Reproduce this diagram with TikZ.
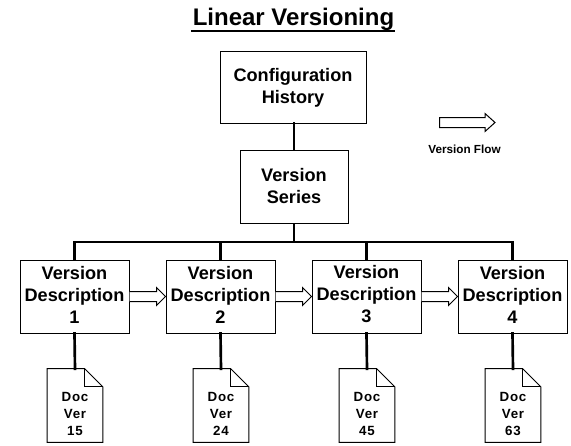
\documentclass[tikz,border=0pt]{standalone}
\usepackage{fontspec}
\setmainfont{Liberation Sans}
\usetikzlibrary{calc}
\tikzset{
  x=0.75pt,y=-0.75pt,
  box/.style={draw=black,line width=0.75pt,fill=white,inner sep=0pt,align=center,
    font=\fontsize{13.6pt}{16.5pt}\selectfont\bfseries},
  vdbox/.style={box,minimum width=81.75pt,minimum height=54.75pt},
  docbox/.style={inner sep=0pt,align=center,minimum width=41.25pt,minimum height=54.75pt,
    font=\fontsize{10pt}{12.8pt}\selectfont\bfseries\addfontfeatures{LetterSpace=6}},
  link/.style={line width=2pt,line cap=rect,xshift=0.4pt},
  blockarrow/.style={draw=black,line width=0.75pt,fill=white},
  docline/.style={draw=black,line width=0.75pt,fill=white,line join=miter},
}
\newcommand{\docshape}[1]{%
  \draw[docline] (#1.north west) -- ($(#1.north east)+(-18,0)$) -- ($(#1.north east)+(0,18)$)
    -- (#1.south east) -- (#1.south west) -- cycle;
  \draw[docline,fill=none] ($(#1.north east)+(-18,0)$) -- ($(#1.north east)+(-18,18)$) -- ($(#1.north east)+(0,18)$);
}
\newcommand{\flowarrow}[2]{%
  \draw[blockarrow] ($(#1.east)+(0,-5)$) -- ($(#2.west)+(-9,-5)$) -- ($(#2.west)+(-9,-9)$)
    -- (#2.west) -- ($(#2.west)+(-9,9)$) -- ($(#2.west)+(-9,5)$) -- ($(#1.east)+(0,5)$);
}
\begin{document}
\begin{tikzpicture}
\useasboundingbox (0,0) rectangle (571,446);
\fill[white] (0,0) rectangle (571,446);

\node[inner sep=0pt,font=\fontsize{18pt}{20pt}\selectfont\bfseries] (title) at (293.5,19) {Linear Versioning};
\coordinate (ulL) at (191,31);
\coordinate (ulR) at (395,31);
\draw[line width=1.5pt] (ulL) -- (ulR);

\node[box,minimum width=109.5pt,minimum height=54pt] (ch) at (293,87) {Configuration\\History\vspace{-1.5pt}};
\node[box,minimum width=81pt,minimum height=54.75pt] (vs) at (294,187) {Version\\Series\vspace{1.5pt}};

\node[vdbox] (v1) at (74.5,296.5) {Version\\Description\\1\vspace{3pt}};
\node[vdbox] (v2) at (220.5,296.5) {Version\\Description\\2\vspace{3pt}};
\node[vdbox] (v3) at (366.5,296.5) {Version\\Description\\3\vspace{3pt}};
\node[vdbox] (v4) at (512.5,296.5) {Version\\Description\\4\vspace{3pt}};

\node[docbox] (d1) at (75,405.5) {};
\node[docbox] (d2) at (221,405.5) {};
\node[docbox] (d3) at (367,405.5) {};
\node[docbox] (d4) at (513,405.5) {};
\docshape{d1}\docshape{d2}\docshape{d3}\docshape{d4}
\node[docbox,anchor=center] (t1) at (75,414) {Doc\\Ver\\15};
\node[docbox,anchor=center] (t2) at (221,414) {Doc\\Ver\\24};
\node[docbox,anchor=center] (t3) at (367,414) {Doc\\Ver\\45};
\node[docbox,anchor=center] (t4) at (513,414) {Doc\\Ver\\63};

\coordinate (bus) at (294,242);
\draw[link] (vs.north) -- (vs.north |- ch.south);
\draw[link] (vs.south) -- (bus);
\draw[link] (v1.north) |- (bus);
\draw[link] (v4.north) |- (bus);
\draw[link] (v2.north) -- (v2.north |- bus);
\draw[link] (v3.north) -- (v3.north |- bus);
\draw[link] (v1.south) -- (d1.north);
\draw[link] (v2.south) -- (d2.north);
\draw[link] (v3.south) -- (d3.north);
\draw[link] (v4.south) -- (d4.north);

\flowarrow{v1}{v2}
\flowarrow{v2}{v3}
\flowarrow{v3}{v4}

\coordinate (lgA) at (439.5,122.5);
\coordinate (lgB) at (495,122.5);
\draw[blockarrow] ($(lgA)+(0,-5)$) -- ($(lgB)+(-10,-5)$) -- ($(lgB)+(-10,-9)$) -- (lgB)
  -- ($(lgB)+(-10,9)$) -- ($(lgB)+(-10,5)$) -- ($(lgA)+(0,5)$) -- cycle;
\node[inner sep=0pt,font=\fontsize{8.8pt}{10pt}\selectfont\bfseries] (lg) at (464.5,149.5) {Version Flow};
\end{tikzpicture}
\end{document}
